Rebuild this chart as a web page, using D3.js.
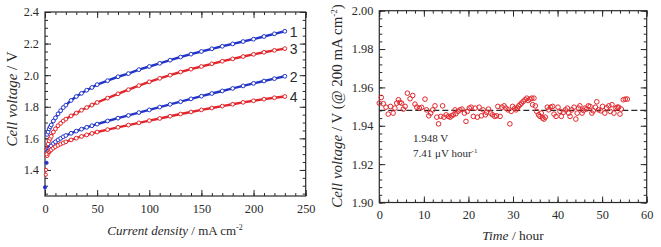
<!DOCTYPE html>
<html>
<head>
<meta charset="utf-8">
<script src="https://cdn.jsdelivr.net/npm/d3@7"></script>
<style>
  body { margin: 0; background: #fff; }
</style>
</head>
<body>
<svg id="chart" width="661" height="247"></svg>
<script>
// ---- left panel: polarization curves ----
const currentDensity = [2, 3, 4, 5, 6, 8, 10, 12.5, 15, 17.5, 20, 25, 30, 35, 40, 45, 50, 60, 70, 80, 90,
                        100, 110, 120, 130, 140, 150, 160, 170, 180, 190, 200, 210, 220, 230];
const curve1 = [1.625, 1.64, 1.66, 1.673, 1.685, 1.71, 1.73, 1.755, 1.775, 1.795, 1.81, 1.84, 1.865, 1.885, 1.905, 1.922, 1.94, 1.965, 1.99, 2.01, 2.035,
                2.055, 2.075, 2.095, 2.115, 2.133, 2.15, 2.167, 2.183, 2.198, 2.213, 2.228, 2.245, 2.262, 2.278];
const curve3 = [1.53, 1.565, 1.585, 1.60, 1.613, 1.64, 1.66, 1.68, 1.695, 1.71, 1.722, 1.742, 1.76, 1.778, 1.795, 1.811, 1.827, 1.855, 1.882, 1.908, 1.934,
                1.958, 1.98, 2.0, 2.02, 2.038, 2.055, 2.072, 2.088, 2.103, 2.118, 2.132, 2.145, 2.157, 2.168];
const curve2 = [1.51, 1.525, 1.535, 1.545, 1.553, 1.567, 1.578, 1.59, 1.6, 1.61, 1.618, 1.632, 1.646, 1.658, 1.67, 1.68, 1.69, 1.71, 1.728, 1.745, 1.763,
                1.78, 1.798, 1.815, 1.832, 1.85, 1.867, 1.884, 1.9, 1.916, 1.932, 1.948, 1.963, 1.978, 1.993];
const curve4 = [1.49, 1.505, 1.515, 1.522, 1.528, 1.538, 1.547, 1.556, 1.564, 1.571, 1.578, 1.59, 1.601, 1.612, 1.622, 1.631, 1.64, 1.655, 1.67, 1.684, 1.698,
                1.712, 1.726, 1.74, 1.754, 1.767, 1.78, 1.792, 1.804, 1.816, 1.828, 1.838, 1.848, 1.857, 1.865];
// stray points at the very start of the sweep
const startCd = [0, 0.8, 1.0, 1.5, 1.5];
const startV = [1.29, 1.37, 1.40, 1.445, 1.50];
const startSeries = ["blue", "red", "red", "blue", "red"];

// ---- right panel: stability at 200 mA cm-2 ----
const timeHours = [0.0, 0.45, 0.9, 1.5, 2.0, 2.5, 3.1, 3.5, 3.9, 4.3, 4.6, 5.0, 5.4, 5.8, 6.3, 6.9, 7.5, 8.0, 8.4, 9.0,
  9.5, 10.25, 10.6, 11.1, 11.5, 12.0, 12.5, 12.9, 13.3, 13.8, 14.2, 14.5, 15.0, 15.5, 15.9, 16.2, 16.6, 17.0, 17.2, 17.65,
  18.1, 18.55, 19.1, 19.45, 19.75, 20.2, 20.6, 21.1, 21.5, 22.0, 22.4, 22.9, 23.3, 23.8, 24.1, 24.5, 25.0, 25.4, 25.9, 26.3,
  26.6, 27.1, 27.5, 28.0, 28.4, 28.9, 29.3, 29.6, 29.9, 30.4, 30.7, 31.0, 31.3, 31.6, 31.9, 32.3, 32.7, 33.1, 33.4, 33.8,
  34.2, 34.4, 34.7, 35.0, 35.3, 35.75, 36.05, 36.35, 36.65, 36.95, 37.25, 37.7, 38.0, 38.45, 38.9, 39.2, 39.65, 40.1, 40.55, 40.85,
  41.3, 41.75, 42.2, 42.5, 42.8, 43.2, 43.7, 44.1, 44.4, 44.7, 45.0, 45.5, 45.8, 46.15, 46.5, 46.9, 47.3, 47.7, 48.0, 48.5,
  48.8, 49.2, 49.7, 50.1, 50.6, 51.0, 51.5, 51.8, 52.2, 52.65, 53.1, 53.4, 53.7, 54.0, 54.3, 54.75, 55.2, 55.65];
const voltage200 = [1.9518, 1.9548, 1.9515, 1.9497, 1.9461, 1.9501, 1.9466, 1.9492, 1.9518, 1.9536, 1.9522, 1.9518, 1.9487, 1.9501, 1.9570, 1.9541, 1.9558, 1.9513, 1.9497, 1.9492,
  1.9496, 1.9539, 1.9483, 1.9452, 1.9466, 1.9483, 1.9504, 1.9445, 1.9410, 1.9449, 1.9504, 1.9445, 1.9457, 1.9449, 1.9445, 1.9452, 1.9457, 1.9483, 1.9463, 1.9475,
  1.9483, 1.9487, 1.9466, 1.9423, 1.9475, 1.9492, 1.9497, 1.9449, 1.9492, 1.9445, 1.9497, 1.9452, 1.9483, 1.9457, 1.9470, 1.9487, 1.9466, 1.9457, 1.9449, 1.9452,
  1.9501, 1.9449, 1.9497, 1.9504, 1.9492, 1.9483, 1.9410, 1.9475, 1.9501, 1.9492, 1.9483, 1.9492, 1.9504, 1.9510, 1.9518, 1.9527, 1.9536, 1.9544, 1.9532, 1.9539,
  1.9544, 1.9510, 1.9544, 1.9504, 1.9475, 1.9457, 1.9449, 1.9466, 1.9440, 1.9435, 1.9445, 1.9497, 1.9483, 1.9497, 1.9501, 1.9461, 1.9449, 1.9497, 1.9475, 1.9449,
  1.9470, 1.9483, 1.9492, 1.9466, 1.9449, 1.9483, 1.9497, 1.9435, 1.9466, 1.9492, 1.9504, 1.9466, 1.9480, 1.9492, 1.9487, 1.9504, 1.9501, 1.9466, 1.9478, 1.9497,
  1.9525, 1.9483, 1.9478, 1.9501, 1.9466, 1.9494, 1.9504, 1.9475, 1.9510, 1.9466, 1.9492, 1.9497, 1.9497, 1.9461, 1.9487, 1.9536, 1.9539, 1.9539];
const fitVoltage = 1.948;

const BLUE = "#2335c8", RED = "#e3262b", INK = "#2a2a2a";
const SERIF = "'Liberation Serif', 'Times New Roman', Times, serif";
const SANS = "'Liberation Sans', Arial, sans-serif";

const svg = d3.select("#chart");

// draws box with inward major/minor ticks on all four sides
function frame(g, x, y, xMajor, xMinor, yMajor, yMinor, xFmt, yFmt) {
  const [x0, x1] = x.range(), [y0, y1] = y.range();
  const sides = [
    [d3.axisBottom, x, `translate(0,${y0})`, xMajor, xMinor, xFmt],
    [d3.axisTop, x, `translate(0,${y1})`, xMajor, xMinor, null],
    [d3.axisLeft, y, `translate(${x0},0)`, yMajor, yMinor, yFmt],
    [d3.axisRight, y, `translate(${x1},0)`, yMajor, yMinor, null]
  ];
  sides.forEach(([axis, s, tr, major, minor, fmt]) => {
    g.append("g").attr("transform", tr)
      .call(axis(s).tickValues(minor).tickSizeInner(-3).tickSizeOuter(0).tickFormat(""));
    const a = g.append("g").attr("transform", tr)
      .call(axis(s).tickValues(major).tickSizeInner(-6).tickSizeOuter(0)
        .tickPadding(axis === d3.axisBottom ? 8 : 6)
        .tickFormat(fmt ? fmt : () => ""));
    a.attr("font-family", null).attr("font-size", null);
    a.selectAll("text").style("font-family", SERIF).style("font-size", "12.3px").attr("fill", INK);
  });
  g.selectAll(".domain").remove();
  g.selectAll(".tick line").attr("stroke", INK).attr("stroke-width", 1);
  g.append("rect").attr("x", x0).attr("y", y1).attr("width", x1 - x0).attr("height", y0 - y1)
    .attr("fill", "none").attr("stroke", INK).attr("stroke-width", 1.2);
}

function label(g, size) {
  return g.append("text").style("font-family", SERIF).style("font-size", size + "px").attr("fill", INK);
}

// ---------- left panel ----------
const xL = d3.scaleLinear().domain([0, 250]).range([45, 305.7]);
const yL = d3.scaleLinear().domain([1.235, 2.4]).range([196, 12]);
const gL = svg.append("g");
frame(gL, xL, yL, d3.range(0, 251, 50), d3.range(0, 251, 10),
      d3.range(1.4, 2.41, 0.2), d3.range(1.25, 2.41, 0.05),
      d3.format("d"), d3.format(".1f"));

const series = [
  {values: curve1, color: BLUE, label: "1"},
  {values: curve3, color: RED, label: "3"},
  {values: curve2, color: BLUE, label: "2"},
  {values: curve4, color: RED, label: "4"}
];
const line = d3.line().x(d => xL(d[0])).y(d => yL(d[1]));
series.forEach(s => {
  const pts = currentDensity.map((c, i) => [c, s.values[i]]);
  gL.append("path").datum(pts).attr("d", line)
    .attr("fill", "none").attr("stroke", s.color).attr("stroke-width", 2.4);
  gL.append("g").selectAll("circle").data(pts).join("circle")
    .attr("cx", d => xL(d[0])).attr("cy", d => yL(d[1])).attr("r", 1.9)
    .attr("fill", "#fff").attr("stroke", s.color).attr("stroke-width", 1);
  const last = pts[pts.length - 1];
  gL.append("text").attr("x", xL(last[0]) + 5).attr("y", yL(last[1]) + 5.5)
    .style("font-family", SANS).style("font-size", "14px")
    .attr("fill", INK).text(s.label);
});
gL.append("g").selectAll("circle").data(startCd).join("circle")
  .attr("cx", d => xL(d)).attr("cy", (d, i) => yL(startV[i])).attr("r", 1.6)
  .attr("fill", (d, i) => startSeries[i] === "blue" ? BLUE : "#fff")
  .attr("stroke", (d, i) => startSeries[i] === "blue" ? BLUE : RED).attr("stroke-width", 1);

// axis titles
const tl = label(gL, 13).attr("x", 175).attr("y", 235).attr("text-anchor", "middle");
tl.append("tspan").style("font-style", "italic").text("Current density");
tl.append("tspan").text(" / mA cm");
tl.append("tspan").attr("dy", -5).style("font-size", "8px").text("-2");
const yl = label(gL, 15).attr("transform", "translate(17,99) rotate(-90)").attr("text-anchor", "middle");
yl.append("tspan").style("font-style", "italic").text("Cell voltage");
yl.append("tspan").text(" / V");

// ---------- right panel ----------
const xR = d3.scaleLinear().domain([0, 60]).range([379.3, 646.7]);
const yR = d3.scaleLinear().domain([1.90, 2.00]).range([202.5, 10.7]);
const gR = svg.append("g");
frame(gR, xR, yR, d3.range(0, 61, 10), d3.range(0, 61, 2),
      d3.range(1.90, 2.001, 0.02), d3.range(1.90, 2.001, 0.004),
      d3.format("d"), d3.format(".2f"));

gR.append("line").attr("x1", xR(0)).attr("x2", xR(60)).attr("y1", yR(fitVoltage)).attr("y2", yR(fitVoltage))
  .attr("stroke", INK).attr("stroke-width", 1.3).attr("stroke-dasharray", "6,3");
gR.append("g").selectAll("circle").data(timeHours).join("circle")
  .attr("cx", d => xR(d)).attr("cy", (d, i) => yR(voltage200[i])).attr("r", 2.3)
  .attr("fill", "none").attr("stroke", RED).attr("stroke-width", 1);

label(gR, 11).attr("x", 413).attr("y", 142).text("1.948 V");
const ann = label(gR, 11).attr("x", 413).attr("y", 157);
ann.append("tspan").text("7.41 \u03bcV hour");
ann.append("tspan").attr("dy", -4).style("font-size", "7px").text("-1");

const tr = label(gR, 13.5).attr("x", 513).attr("y", 240).attr("text-anchor", "middle");
tr.append("tspan").style("font-style", "italic").text("Time");
tr.append("tspan").text(" / hour");
const yt = label(gR, 15).attr("transform", "translate(342,106) rotate(-90)").attr("text-anchor", "middle");
yt.append("tspan").style("font-style", "italic").text("Cell voltage");
yt.append("tspan").text(" / V (@ 200 mA cm");
yt.append("tspan").attr("dy", -5).style("font-size", "9px").text("-2");
yt.append("tspan").attr("dy", 5).text(")");
</script>
</body>
</html>
